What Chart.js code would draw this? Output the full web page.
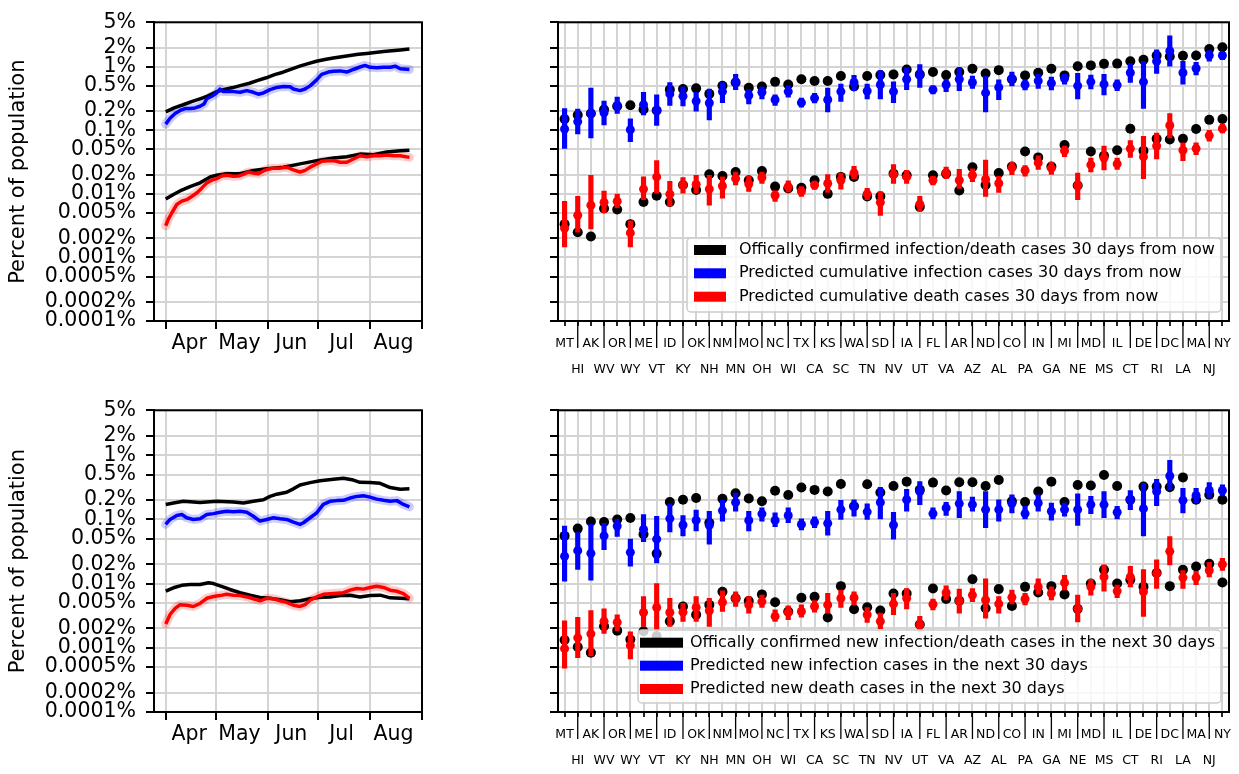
<!DOCTYPE html>
<html>
<head>
<meta charset="utf-8">
<script src="https://cdn.jsdelivr.net/npm/chart.js@4.4.1/dist/chart.umd.min.js"></script>
<style>
  html, body { margin: 0; padding: 0; background: #fff; }
  #page { position: relative; width: 1239px; height: 774px; overflow: hidden; background: #fff; }
  #page canvas { position: absolute; }
</style>
</head>
<body>
<div id="page">
  <canvas id="cumTrend" width="440" height="388" style="left:0;top:0;width:440px;height:388px"></canvas>
  <canvas id="cumStates" width="699" height="388" style="left:540px;top:0;width:699px;height:388px"></canvas>
  <canvas id="newTrend" width="440" height="386" style="left:0;top:388px;width:440px;height:386px"></canvas>
  <canvas id="newStates" width="699" height="386" style="left:540px;top:388px;width:699px;height:386px"></canvas>
</div>
<script>
// ---- axis ticks -------------------------------------------------------------
const yTicks = [5, 2, 1, 0.5, 0.2, 0.1, 0.05, 0.02, 0.01, 0.005, 0.002, 0.001, 0.0005, 0.0002, 0.0001];
const yTickLabels = ['5%', '2%', '1%', '0.5%', '0.2%', '0.1%', '0.05%', '0.02%', '0.01%', '0.005%',
                     '0.002%', '0.001%', '0.0005%', '0.0002%', '0.0001%'];
// days counted from April 1
const monthStarts = [0, 30, 61, 91, 122, 153];
const monthMids = [14, 44, 75, 105, 136];
const monthNames = ['Apr', 'May', 'Jun', 'Jul', 'Aug'];

// ---- national time series, [day, percent of population] ---------------------
const cumInfConfirmed = [[0,0.195],[5,0.225],[10,0.25],[15,0.28],[20,0.31],[25,0.345],[30,0.40],[35,0.44],
  [40,0.47],[45,0.51],[50,0.55],[55,0.61],[60,0.67],[65,0.75],[70,0.82],[75,0.92],[80,1.02],[85,1.12],
  [90,1.22],[95,1.30],[100,1.37],[105,1.44],[110,1.50],[115,1.57],[120,1.62],[125,1.67],[130,1.73],
  [135,1.78],[140,1.84],[145.5,1.90]];
const cumInfPredicted = [[0,0.125],[2.6,0.155],[5.6,0.184],[8.6,0.205],[11.5,0.22],[14.5,0.22],[17.5,0.225],
  [20.5,0.239],[22.9,0.26],[24.5,0.313],[27.5,0.344],[30.4,0.387],[32.4,0.446],[34.4,0.406],[40.4,0.406],
  [44.4,0.396],[48.4,0.421],[52.3,0.396],[55.3,0.37],[58.3,0.387],[62.3,0.436],[66.3,0.473],[70.2,0.49],
  [74.2,0.484],[76.2,0.446],[80.2,0.421],[83.2,0.446],[86.2,0.50],[90.1,0.621],[93.1,0.758],[97.1,0.824],
  [100.1,0.85],[104.1,0.86],[108.1,0.824],[112,0.905],[116,0.99],[119,1.05],[122,0.98],[126,0.96],
  [130,0.98],[134,0.98],[137,1.02],[140,0.93],[145.5,0.905]];
const cumDeathConfirmed = [[0,0.0083],[4.6,0.0098],[9.6,0.0115],[14.5,0.0130],[20.5,0.0149],[26.5,0.0185],
  [30.4,0.0196],[36.4,0.0208],[44.4,0.0208],[52.3,0.0234],[60.3,0.0248],[70.2,0.0263],[80.2,0.0296],
  [90.1,0.0333],[100.1,0.0366],[108.1,0.0384],[116,0.0422],[124,0.0412],[132,0.0457],[140,0.0475],[145.5,0.0486]];
const cumDeathPredicted = [[0,0.00315],[1.6,0.0040],[3.6,0.0050],[6.6,0.0068],[9.6,0.0077],[12.5,0.0081],
  [15.5,0.0091],[18.5,0.0103],[21.5,0.0123],[24.5,0.0149],[27.5,0.0164],[30.4,0.0174],[33.4,0.0191],
  [36.4,0.0196],[40.4,0.0189],[43.4,0.0191],[46.4,0.0203],[49.4,0.0221],[52.3,0.0213],[55.3,0.0208],
  [58.3,0.0229],[61.3,0.0246],[64.3,0.0254],[68.3,0.0254],[72.2,0.0263],[76.2,0.0239],[80.2,0.0221],
  [83.2,0.0234],[86.2,0.0263],[90.1,0.0296],[93.1,0.0325],[97.1,0.0333],[100.1,0.0333],[104.1,0.0314],
  [108.1,0.0314],[112,0.0354],[116,0.0398],[120,0.0384],[124,0.0398],[128,0.0398],[132,0.0408],
  [136,0.0398],[140,0.0398],[145.5,0.0375]];

const newInfConfirmed = [[0,0.171],[4.6,0.180],[10.5,0.191],[20.5,0.184],[30.4,0.191],[40.4,0.186],[46.4,0.180],
  [52.3,0.191],[58.3,0.202],[62.3,0.228],[66.3,0.247],[72.2,0.265],[76.2,0.299],[80.2,0.344],[86.2,0.374],
  [92.1,0.401],[100.1,0.421],[106.1,0.436],[112,0.41],[116,0.378],[122,0.374],[128,0.365],[134,0.313],
  [140,0.295],[145.5,0.299]];
const newInfPredicted = [[0,0.0836],[2.6,0.0998],[6.6,0.115],[9.6,0.119],[12.5,0.106],[16.5,0.0998],[20.5,0.102],
  [24.5,0.119],[28.5,0.123],[32.4,0.129],[36.4,0.134],[40.4,0.132],[44.4,0.134],[48.4,0.129],[52.3,0.112],
  [56.3,0.094],[60.3,0.0998],[64.3,0.106],[68.3,0.102],[72.2,0.0998],[76.2,0.0908],[80.2,0.0836],
  [82.2,0.0887],[86.2,0.106],[90.1,0.126],[94.1,0.171],[98.1,0.191],[102.1,0.196],[106.1,0.198],
  [110,0.215],[114,0.228],[118,0.233],[122,0.222],[126,0.207],[130,0.198],[134,0.191],[138,0.196],
  [141.9,0.171],[145.5,0.157]];
const newDeathConfirmed = [[0,0.00764],[4.6,0.0086],[9.6,0.0094],[14.5,0.0097],[20.5,0.0097],[25.5,0.0103],
  [28.5,0.0100],[32.4,0.0092],[38.4,0.0081],[44.4,0.0072],[50.3,0.0066],[56.3,0.0061],[62.3,0.0059],
  [68.3,0.0056],[74.2,0.0052],[80.2,0.0054],[86.2,0.0058],[92.1,0.0061],[98.1,0.0062],[104.1,0.0065],
  [110,0.0066],[116,0.0062],[122,0.0065],[128,0.0066],[134,0.0060],[140,0.0059],[145.5,0.0058]];
const newDeathPredicted = [[0,0.00235],[2.6,0.0033],[5.6,0.0041],[8.6,0.0047],[12.5,0.0046],[16.5,0.0044],
  [20.5,0.0049],[24.5,0.0059],[28.5,0.0063],[32.4,0.0065],[36.4,0.0068],[40.4,0.0066],[44.4,0.0065],
  [48.4,0.0062],[52.3,0.0058],[56.3,0.0054],[60.3,0.0059],[64.3,0.0058],[68.3,0.0054],[72.2,0.0051],
  [76.2,0.0046],[80.2,0.0044],[83.2,0.0047],[86.2,0.0055],[90.1,0.0062],[94.1,0.0068],[100.1,0.0070],
  [106.1,0.0072],[110,0.0079],[114,0.0084],[118,0.0082],[122,0.0087],[126,0.0091],[130,0.0087],
  [134,0.0079],[138,0.0076],[141.9,0.0070],[145.5,0.0059]];

// ---- per-state values (percent of population) --------------------------------
const states = ['MT','HI','AK','WV','OR','WY','ME','VT','ID','KY','OK','NH','NM','MN','MO','OH','NC','WI',
  'TX','CA','KS','SC','WA','TN','SD','NV','IA','UT','FL','VA','AR','AZ','ND','AL','CO','PA','IN','GA',
  'MI','NE','MD','MS','IL','CT','DE','RI','DC','LA','MA','NJ','NY'];

const stCumInfConfirmed = [0.15,0.174,0.184,0.212,0.239,0.247,0.212,0.205,0.436,0.446,0.457,0.374,0.502,0.565,
  0.468,0.490,0.578,0.526,0.635,0.598,0.598,0.714,0.490,0.714,0.741,0.758,0.905,0.758,0.824,0.741,0.824,0.927,
  0.785,0.884,0.635,0.731,0.804,0.927,0.731,1.02,1.05,1.11,1.12,1.22,1.29,1.50,1.45,1.49,1.50,1.90,2.02];
const stCumInfPred = [0.105,0.137,0.184,0.189,0.247,0.102,0.253,0.205,0.374,0.344,0.288,0.269,0.406,0.578,
  0.352,0.396,0.302,0.406,0.272,0.321,0.302,0.406,0.565,0.416,0.520,0.406,0.635,0.731,0.436,0.520,0.635,0.565,
  0.387,0.473,0.650,0.520,0.598,0.552,0.650,0.50,0.578,0.532,0.514,0.804,0.578,1.22,1.77,0.804,0.938,1.50,1.50];
const stCumInfPredLow = [0.052,0.0877,0.076,0.122,0.184,0.066,0.174,0.119,0.247,0.242,0.200,0.146,0.272,0.436,
  0.259,0.313,0.247,0.332,0.231,0.269,0.195,0.285,0.421,0.313,0.313,0.272,0.436,0.473,0.374,0.406,0.421,0.457,
  0.195,0.302,0.50,0.431,0.457,0.431,0.532,0.313,0.446,0.361,0.421,0.565,0.220,0.785,1.02,0.532,0.741,1.22,1.29];
const stCumInfPredHigh = [0.22,0.215,0.462,0.288,0.332,0.151,0.396,0.361,0.565,0.484,0.396,0.446,0.565,0.758,
  0.436,0.484,0.361,0.50,0.321,0.383,0.462,0.532,0.731,0.532,0.873,0.578,0.959,1.08,0.50,0.635,0.959,0.714,
  0.714,0.621,0.824,0.621,0.758,0.690,0.758,0.785,0.741,0.758,0.621,1.12,1.22,1.84,3.05,1.22,1.17,1.79,1.73];

const stCumDeathConfirmed = [0.00334,0.00249,0.00214,0.00589,0.00569,0.00334,0.00746,0.00933,0.00746,0.0138,
  0.0115,0.0203,0.0191,0.0221,0.0164,0.0229,0.0130,0.0122,0.0125,0.0164,0.0100,0.0185,0.0185,0.00912,0.00912,
  0.0208,0.0196,0.00625,0.0196,0.0208,0.0113,0.0263,0.0138,0.0213,0.0270,0.0464,0.0375,0.0270,0.0587,0.0135,
  0.0464,0.0398,0.0486,0.106,0.0475,0.0735,0.0718,0.0735,0.105,0.146,0.151];
const stCumDeathPred = [0.00287,0.00460,0.00662,0.00736,0.00764,0.00243,0.0119,0.0185,0.00989,0.0138,0.0141,
  0.0119,0.0133,0.0174,0.0143,0.0181,0.00944,0.0130,0.0109,0.0138,0.0146,0.0164,0.0213,0.0100,0.00736,0.0203,
  0.0185,0.00687,0.0164,0.0213,0.0164,0.0196,0.0168,0.0146,0.0257,0.0234,0.0307,0.0254,0.0475,0.0135,0.0286,
  0.0366,0.0296,0.0515,0.0384,0.0566,0.119,0.0486,0.0515,0.0826,0.106];
const stCumDeathPredLow = [0.00147,0.00249,0.00281,0.00506,0.00603,0.00147,0.00809,0.0103,0.00640,0.0103,0.0103,
  0.00662,0.00859,0.0138,0.0109,0.0146,0.00764,0.0106,0.00912,0.0118,0.0105,0.0119,0.0174,0.00809,0.00460,
  0.0146,0.0146,0.00536,0.0138,0.0174,0.0122,0.0155,0.00912,0.0105,0.0201,0.0189,0.0243,0.0203,0.0384,0.00809,
  0.0221,0.0239,0.0243,0.0375,0.0174,0.0354,0.076,0.0333,0.0412,0.0676,0.0908];
const stCumDeathPredHigh = [0.00764,0.00912,0.0196,0.0111,0.00989,0.00377,0.0185,0.0333,0.0158,0.0181,0.0196,
  0.0196,0.0185,0.0221,0.0189,0.0221,0.0113,0.0160,0.0130,0.0158,0.0201,0.0213,0.0270,0.0122,0.0109,0.0289,
  0.0234,0.00912,0.0189,0.0263,0.0243,0.0248,0.0341,0.0189,0.0314,0.0279,0.0398,0.0314,0.0566,0.0213,0.0366,
  0.0566,0.0366,0.0692,0.0807,0.0908,0.184,0.0637,0.0637,0.0998,0.126];

const stNewInfConfirmed = [0.0553,0.0718,0.0929,0.0908,0.0998,0.105,0.0587,0.0293,0.186,0.202,0.215,0.0887,
  0.210,0.256,0.212,0.191,0.279,0.239,0.313,0.288,0.272,0.356,0.160,0.352,0.262,0.332,0.387,0.288,0.374,0.282,
  0.378,0.378,0.332,0.410,0.191,0.186,0.272,0.387,0.186,0.344,0.338,0.490,0.332,0.202,0.324,0.324,0.317,0.451,
  0.202,0.242,0.202];
const stNewInfPred = [0.0267,0.0326,0.0296,0.0553,0.0789,0.0307,0.070,0.0492,0.103,0.0817,0.0964,0.0807,0.137,
  0.184,0.0964,0.122,0.0964,0.115,0.0836,0.0908,0.0867,0.142,0.160,0.131,0.184,0.0817,0.202,0.272,0.123,0.151,
  0.176,0.170,0.142,0.142,0.176,0.123,0.180,0.134,0.142,0.142,0.170,0.170,0.129,0.202,0.147,0.272,0.473,0.198,
  0.236,0.282,0.282];
const stNewInfPredLow = [0.0109,0.0166,0.0113,0.0337,0.0541,0.0187,0.0448,0.0210,0.0637,0.0553,0.0661,0.0412,
  0.094,0.134,0.0661,0.094,0.0769,0.0887,0.0684,0.0743,0.0566,0.0998,0.112,0.0998,0.102,0.0492,0.134,0.170,
  0.102,0.115,0.106,0.134,0.0743,0.094,0.126,0.102,0.134,0.0975,0.112,0.0807,0.123,0.106,0.102,0.142,0.0553,
  0.164,0.288,0.126,0.180,0.215,0.233];
const stNewInfPredHigh = [0.0789,0.0622,0.0836,0.0867,0.0998,0.0492,0.119,0.112,0.174,0.115,0.139,0.134,0.198,
  0.256,0.134,0.151,0.126,0.151,0.102,0.110,0.134,0.198,0.202,0.174,0.317,0.129,0.295,0.387,0.151,0.184,0.272,
  0.222,0.272,0.202,0.242,0.160,0.242,0.180,0.180,0.250,0.228,0.272,0.160,0.282,0.365,0.421,0.834,0.305,0.305,
  0.374,0.344];

const stNewDeathConfirmed = [0.00132,0.00103,0.00084,0.00216,0.00185,0.00135,0.00181,0.00152,0.00258,0.00439,
  0.00327,0.00466,0.00746,0.00589,0.00536,0.00679,0.00512,0.00367,0.00603,0.00625,0.00297,0.00912,0.00399,
  0.00429,0.00381,0.00703,0.00703,0.00230,0.00839,0.00575,0.00542,0.0117,0.00414,0.00820,0.00449,0.00889,
  0.00728,0.00912,0.00679,0.00404,0.0100,0.0164,0.0100,0.0115,0.00889,0.0146,0.00912,0.0164,0.0185,0.0203,0.0104];
const stNewDeathPred = [0.00097,0.00143,0.00165,0.00258,0.00249,0.00109,0.00355,0.00424,0.00355,0.00359,0.00424,
  0.00377,0.00512,0.00589,0.00466,0.00524,0.00308,0.00355,0.00367,0.00439,0.00466,0.00589,0.00603,0.00327,
  0.00258,0.00482,0.00589,0.00230,0.00476,0.00719,0.00536,0.00662,0.00556,0.00482,0.00611,0.00575,0.00889,
  0.00703,0.0103,0.00404,0.00889,0.0127,0.00764,0.0127,0.00746,0.0143,0.0318,0.0124,0.0124,0.0160,0.0199];
const stNewDeathPredLow = [0.00048,0.00070,0.00075,0.00167,0.00185,0.00067,0.00216,0.00192,0.00216,0.00258,
  0.00258,0.00216,0.00367,0.00439,0.00347,0.00424,0.00258,0.00274,0.00301,0.00359,0.00347,0.00424,0.00466,
  0.00249,0.00199,0.00327,0.00404,0.00181,0.00390,0.00556,0.00347,0.00524,0.00290,0.00347,0.00482,0.00466,
  0.00687,0.00556,0.00791,0.00252,0.00662,0.00764,0.00603,0.00889,0.00308,0.00839,0.0196,0.00839,0.00966,
  0.0127,0.0160];
const stNewDeathPredHigh = [0.00264,0.00297,0.00381,0.00404,0.00327,0.00177,0.00625,0.0100,0.00589,0.00493,
  0.00625,0.00589,0.00773,0.00746,0.00625,0.00662,0.00390,0.00449,0.00466,0.00542,0.00703,0.00791,0.00746,
  0.00424,0.00347,0.00703,0.00839,0.00308,0.00575,0.00923,0.00820,0.00839,0.0119,0.00625,0.00791,0.00703,
  0.0119,0.00889,0.0135,0.00662,0.0117,0.0196,0.00944,0.0185,0.0166,0.0234,0.0541,0.0160,0.0155,0.0215,0.0248];

const cumLegendLabels = ['Offically confirmed infection/death cases 30 days from now',
  'Predicted cumulative infection cases 30 days from now',
  'Predicted cumulative death cases 30 days from now'];
const newLegendLabels = ['Offically confirmed new infection/death cases in the next 30 days',
  'Predicted new infection cases in the next 30 days',
  'Predicted new death cases in the next 30 days'];

// ---- styling ------------------------------------------------------------------
const FONT = "'DejaVu Sans', 'Liberation Sans', sans-serif";
const GRID = '#d4d4d4';
const BLACK = '#000000', BLUE = '#0000ff', RED = '#ff0000';
Chart.defaults.font.family = FONT;
Chart.defaults.color = '#000';
Chart.defaults.animation = false;

// frame around the plot, staggered-label ticks and the boxed legend
const decor = {
  id: 'decor',
  afterDatasetsDraw(chart, args, opts) {
    const ctx = chart.ctx, a = chart.chartArea;
    ctx.save();
    if (opts.longTicks) {
      const xs = chart.scales.x;
      ctx.strokeStyle = '#000';
      ctx.lineWidth = 1.3;
      for (let i = 1; i < xs.ticks.length; i += 2) {
        const px = xs.getPixelForTick(i);
        ctx.beginPath();
        ctx.moveTo(px, a.bottom);
        ctx.lineTo(px, a.bottom + opts.longTicks);
        ctx.stroke();
      }
    }
    ctx.strokeStyle = '#000';
    ctx.lineWidth = 2;
    ctx.strokeRect(a.left, a.top, a.right - a.left, a.bottom - a.top);
    const L = opts.legend;
    if (L) {
      const r = 4;
      ctx.beginPath();
      ctx.moveTo(L.x + r, L.y);
      ctx.lineTo(L.x + L.w - r, L.y);
      ctx.arcTo(L.x + L.w, L.y, L.x + L.w, L.y + r, r);
      ctx.lineTo(L.x + L.w, L.y + L.h - r);
      ctx.arcTo(L.x + L.w, L.y + L.h, L.x + L.w - r, L.y + L.h, r);
      ctx.lineTo(L.x + r, L.y + L.h);
      ctx.arcTo(L.x, L.y + L.h, L.x, L.y + L.h - r, r);
      ctx.lineTo(L.x, L.y + r);
      ctx.arcTo(L.x, L.y, L.x + r, L.y, r);
      ctx.closePath();
      ctx.fillStyle = 'rgba(255,255,255,0.8)';
      ctx.fill();
      ctx.strokeStyle = '#cccccc';
      ctx.lineWidth = 1.5;
      ctx.stroke();
      ctx.font = '16px ' + FONT;
      ctx.textAlign = 'left';
      ctx.textBaseline = 'middle';
      L.items.forEach((it, k) => {
        const y = L.rows[k];
        ctx.fillStyle = it.color;
        ctx.fillRect(L.hx, y - 5, L.hw, 10);
        ctx.fillStyle = '#000';
        ctx.fillText(it.label, L.tx, y);
      });
    }
    ctx.restore();
  }
};

function logAxis(withLabels, width) {
  return {
    type: 'logarithmic', min: 0.0001, max: 5,
    afterBuildTicks: s => { s.ticks = yTicks.map(v => ({ value: v })); },
    ticks: {
      autoSkip: false, padding: 10, font: { size: 20.5 },
      callback: v => withLabels ? yTickLabels[yTicks.indexOf(v)] : ''
    },
    grid: { color: GRID, lineWidth: 2, tickLength: 8, tickColor: '#000', tickWidth: 2 },
    border: { color: '#000', width: 2 },
    title: withLabels ? { display: true, text: 'Percent of population', font: { size: 21 }, padding: { top: 6, bottom: 0 } } : { display: false },
    afterFit: s => { s.width = width; }
  };
}

function trendLine(pairs, color, order) {
  return { data: pairs.map(p => ({ x: p[0], y: p[1] })), borderColor: color, borderWidth: 3.5,
           pointRadius: 0, tension: 0, borderJoinStyle: 'round', fill: false, order: order };
}
function trendBand(pairs, color) {
  return { data: pairs.map(p => ({ x: p[0], y: p[1] })), borderColor: color, borderWidth: 9,
           pointRadius: 0, tension: 0, borderJoinStyle: 'round', borderCapStyle: 'round', fill: false, order: 3 };
}

function trendChart(id, padTop, axisH, s) {
  const allTicks = monthStarts.concat(monthMids).sort((a, b) => a - b);
  return new Chart(document.getElementById(id), {
    type: 'line',
    data: { datasets: [
      trendBand(s.infPred, 'rgba(0,0,255,0.2)'),
      trendBand(s.deathPred, 'rgba(255,0,0,0.2)'),
      trendLine(s.infConf, BLACK, 2),
      trendLine(s.deathConf, BLACK, 2),
      trendLine(s.infPred, BLUE, 1),
      trendLine(s.deathPred, RED, 1)
    ] },
    options: {
      responsive: false, devicePixelRatio: 1, animation: false, events: [],
      layout: { padding: { top: padTop, right: 18, left: 0, bottom: 0 } },
      plugins: { legend: { display: false }, tooltip: { enabled: false }, decor: {} },
      scales: {
        x: {
          type: 'linear', min: -7, max: 153,
          afterBuildTicks: sc => { sc.ticks = allTicks.map(v => ({ value: v })); },
          ticks: {
            autoSkip: false, maxRotation: 0, minRotation: 0, padding: 2, font: { size: 20.5 },
            callback: v => { const k = monthMids.indexOf(v); return k >= 0 ? monthNames[k] : ''; }
          },
          grid: {
            lineWidth: 2, tickLength: 8, tickWidth: 2,
            color: c => monthStarts.includes(c.tick && c.tick.value) ? GRID : 'rgba(0,0,0,0)',
            tickColor: c => monthStarts.includes(c.tick && c.tick.value) ? '#000' : 'rgba(0,0,0,0)'
          },
          border: { color: '#000', width: 2 },
          afterFit: sc => { sc.height = axisH; }
        },
        y: logAxis(true, 154)
      }
    },
    plugins: [decor]
  });
}

function pointSet(values, color, radius, order) {
  return { type: 'line', data: values, showLine: false, pointRadius: radius, pointBackgroundColor: color,
           pointBorderColor: color, pointBorderWidth: 0, order: order };
}
function errorSet(low, high, color) {
  return { type: 'bar', data: low.map((l, i) => [l, high[i]]), backgroundColor: color, borderWidth: 0,
           barThickness: 4.5, grouped: false, order: 2 };
}

function statesChart(id, padTop, axisH, s, legendLabels, legend) {
  const colors = [BLACK, BLUE, RED];
  legend.items = legendLabels.map((t, k) => ({ label: t, color: colors[k] }));
  return new Chart(document.getElementById(id), {
    type: 'bar',
    data: { labels: states, datasets: [
      pointSet(s.infConf, BLACK, 5, 3),
      pointSet(s.deathConf, BLACK, 5, 3),
      errorSet(s.infLow, s.infHigh, BLUE),
      errorSet(s.deathLow, s.deathHigh, RED),
      pointSet(s.infPred, BLUE, 4.5, 1),
      pointSet(s.deathPred, RED, 4.5, 1)
    ] },
    options: {
      responsive: false, devicePixelRatio: 1, animation: false, events: [],
      layout: { padding: { top: padTop, right: 10, left: 0, bottom: 0 } },
      plugins: { legend: { display: false }, tooltip: { enabled: false },
                 decor: { longTicks: 27, legend: legend } },
      scales: {
        x: {
          type: 'category', offset: true,
          ticks: {
            autoSkip: false, maxRotation: 0, minRotation: 0, padding: 5,
            font: { size: 12.5, lineHeight: 2.08 },
            callback: (v, i) => i % 2 ? ['', states[i]] : states[i]
          },
          grid: { offset: false, color: GRID, lineWidth: 2, tickLength: 5, tickColor: '#000', tickWidth: 1.7 },
          border: { color: '#000', width: 2 },
          afterFit: sc => { sc.height = axisH; }
        },
        y: logAxis(false, 18)
      }
    },
    plugins: [decor]
  });
}

trendChart('cumTrend', 15, 67, {
  infConf: cumInfConfirmed, infPred: cumInfPredicted,
  deathConf: cumDeathConfirmed, deathPred: cumDeathPredicted
});
trendChart('newTrend', 18, 62, {
  infConf: newInfConfirmed, infPred: newInfPredicted,
  deathConf: newDeathConfirmed, deathPred: newDeathPredicted
});
statesChart('cumStates', 15, 67, {
  infConf: stCumInfConfirmed, infPred: stCumInfPred, infLow: stCumInfPredLow, infHigh: stCumInfPredHigh,
  deathConf: stCumDeathConfirmed, deathPred: stCumDeathPred, deathLow: stCumDeathPredLow, deathHigh: stCumDeathPredHigh
}, cumLegendLabels, { x: 147, y: 238, w: 534, h: 74, hx: 154, hw: 32, tx: 199, rows: [250, 273.3, 296.7] });
statesChart('newStates', 18, 62, {
  infConf: stNewInfConfirmed, infPred: stNewInfPred, infLow: stNewInfPredLow, infHigh: stNewInfPredHigh,
  deathConf: stNewDeathConfirmed, deathPred: stNewDeathPred, deathLow: stNewDeathPredLow, deathHigh: stNewDeathPredHigh
}, newLegendLabels, { x: 98, y: 242, w: 583, h: 73, hx: 100, hw: 43, tx: 150, rows: [254.7, 277.7, 301] });
</script>
</body>
</html>
